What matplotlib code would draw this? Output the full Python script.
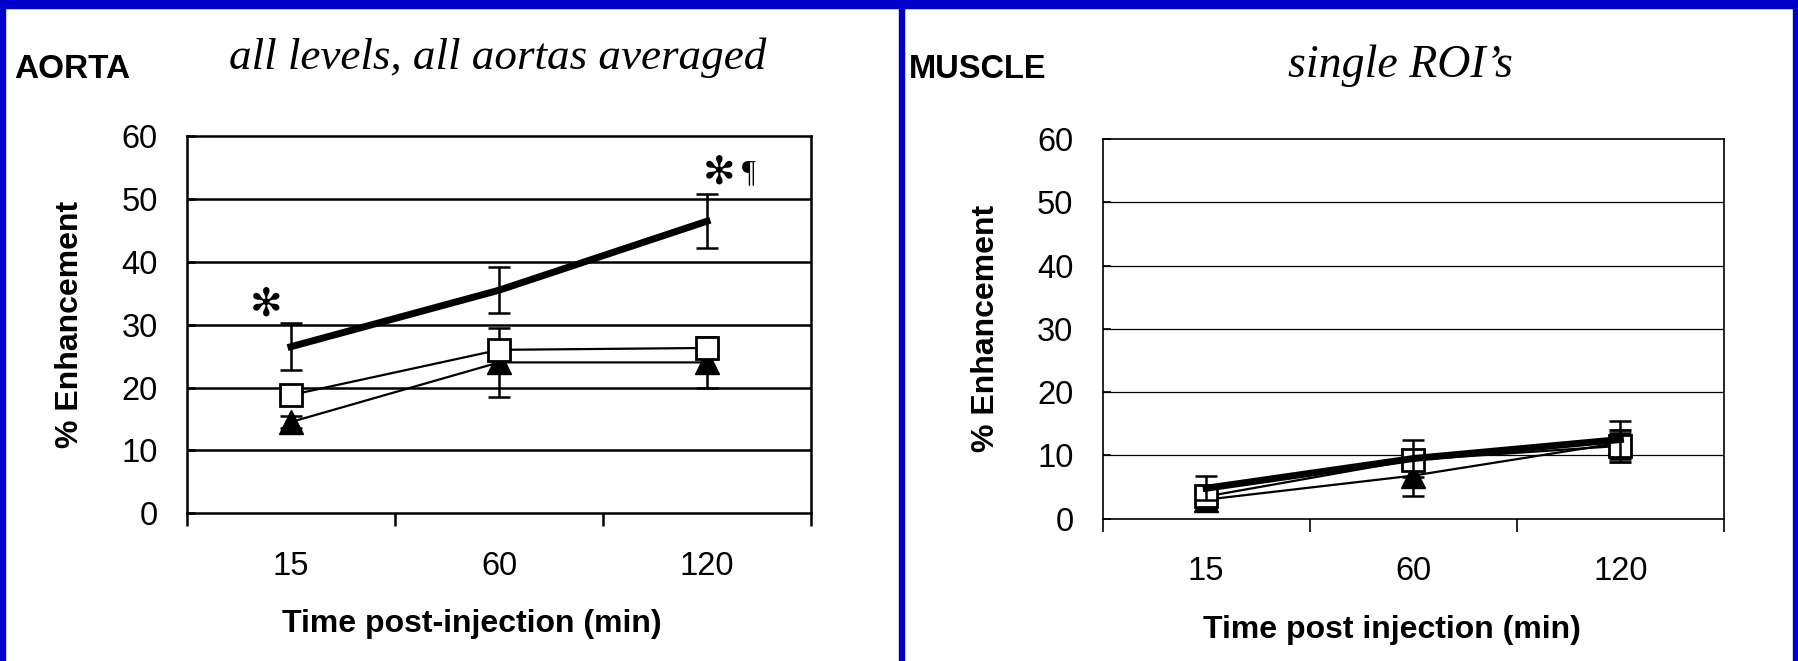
import matplotlib.pyplot as plt
from matplotlib.patches import Rectangle

times = ["15", "60", "120"]
yticks = [0, 10, 20, 30, 40, 50, 60]

# aorta (left panel)
aorta_thick = [26.5, 35.5, 46.5]
aorta_thick_err = [3.7, 3.7, 4.3]
aorta_square = [18.8, 26.0, 26.3]
aorta_square_err = [1.0, 1.0, 1.0]
aorta_tri = [14.5, 24.0, 24.0]
aorta_tri_err = [1.0, 5.5, 4.0]

# muscle (right panel)
muscle_thick = [4.8, 9.5, 12.5]
muscle_thick_err = [1.9, 3.0, 3.0]
muscle_square = [3.5, 9.3, 11.5]
muscle_square_err = [0.8, 1.0, 2.5]
muscle_tri = [3.0, 6.8, 12.0]
muscle_tri_err = [0.6, 3.3, 1.5]

plt.rcParams['font.family'] = ['Liberation Sans', 'DejaVu Sans']

fig = plt.figure(figsize=(17.99, 6.61), dpi=100)
blue = '#0000CC'
# blue frame
fig.patches.append(Rectangle((0, 1 - 8/661), 1, 8/661, transform=fig.transFigure, color=blue, zorder=0))
fig.patches.append(Rectangle((0, 0), 5/1799, 1, transform=fig.transFigure, color=blue, zorder=0))
fig.patches.append(Rectangle((1 - 6/1799, 0), 6/1799, 1, transform=fig.transFigure, color=blue, zorder=0))
fig.patches.append(Rectangle((899/1799, 0), 5/1799, 1, transform=fig.transFigure, color=blue, zorder=0))

ax1 = fig.add_axes([0.1039, 0.2239, 0.3469, 0.5696])
ax2 = fig.add_axes([0.6129, 0.2154, 0.3454, 0.5743])

x = list(range(len(times)))


def setup(ax, grid_lw, spine_lw, xlabel, xlabel_pos):
    ax.set_xlim(-0.5, 2.5)
    ax.set_ylim(0, 60)
    ax.set_yticks(yticks)
    ax.set_yticklabels([str(v) for v in yticks], fontsize=23.5)
    ax.set_xticks(x)
    ax.set_xticklabels(times, fontsize=23.5)
    ax.tick_params(axis='x', which='major', length=0, pad=27)
    ax.set_xticks([-0.5, 0.5, 1.5, 2.5], minor=True)
    ax.tick_params(axis='x', which='minor', length=9, width=spine_lw, direction='out')
    ax.tick_params(axis='y', length=6, width=spine_lw, direction='in', pad=21)
    for v in yticks[1:-1]:
        ax.axhline(v, color='black', lw=grid_lw, zorder=1)
    for s in ax.spines.values():
        s.set_linewidth(spine_lw)
    ax.set_ylabel('% Enhancement', fontsize=23, fontweight='bold', labelpad=26)
    ax.set_xlabel(xlabel, fontsize=23, fontweight='bold', labelpad=20)
    ax.xaxis.label.set_x(xlabel_pos)


def draw(ax, thick, thick_err, sq, sq_err, tri, tri_err):
    ax.errorbar(x, tri, yerr=tri_err, color='black', lw=1.6, marker='^', ms=17,
                mfc='black', mec='black', capsize=8, capthick=1.8, elinewidth=1.8, zorder=3)
    ax.errorbar(x, sq, yerr=sq_err, color='black', lw=1.6, marker='s', ms=15.5,
                mfc='white', mec='black', mew=2, capsize=8, capthick=1.8, elinewidth=1.8, zorder=4)
    ax.errorbar(x, thick, yerr=thick_err, color='black', lw=5, capsize=8,
                capthick=1.8, elinewidth=1.8, zorder=5)


setup(ax1, 1.8, 1.8, 'Time post-injection (min)', 0.456)
draw(ax1, aorta_thick, aorta_thick_err, aorta_square, aorta_square_err, aorta_tri, aorta_tri_err)
ax1.text(-0.12, 33.2, '\u273b', fontsize=28, ha='center', va='center', family='DejaVu Sans')
ax1.text(2.06, 54.3, '\u273b', fontsize=28, ha='center', va='center', family='DejaVu Sans')
ax1.text(2.2, 54.0, '\u00b6', fontsize=22, ha='center', va='center', family='Liberation Serif')

setup(ax2, 0.9, 1.2, 'Time post injection (min)', 0.465)
draw(ax2, muscle_thick, muscle_thick_err, muscle_square, muscle_square_err, muscle_tri, muscle_tri_err)

fig.text(14/1799, 1 - 70/661, 'AORTA', fontsize=24, fontweight='bold', va='center', ha='left')
fig.text(498/1799, 1 - 58/661, 'all levels, all aortas averaged', fontsize=32.5, style='italic',
         family='Liberation Serif', va='center', ha='center')
fig.text(909/1799, 1 - 69/661, 'MUSCLE', fontsize=23.5, fontweight='bold', va='center', ha='left')
fig.text(1400/1799, 1 - 66/661, 'single ROI\u2019s', fontsize=33, style='italic',
         family='Liberation Serif', va='center', ha='center')

fig.savefig('out.png', dpi=100)
